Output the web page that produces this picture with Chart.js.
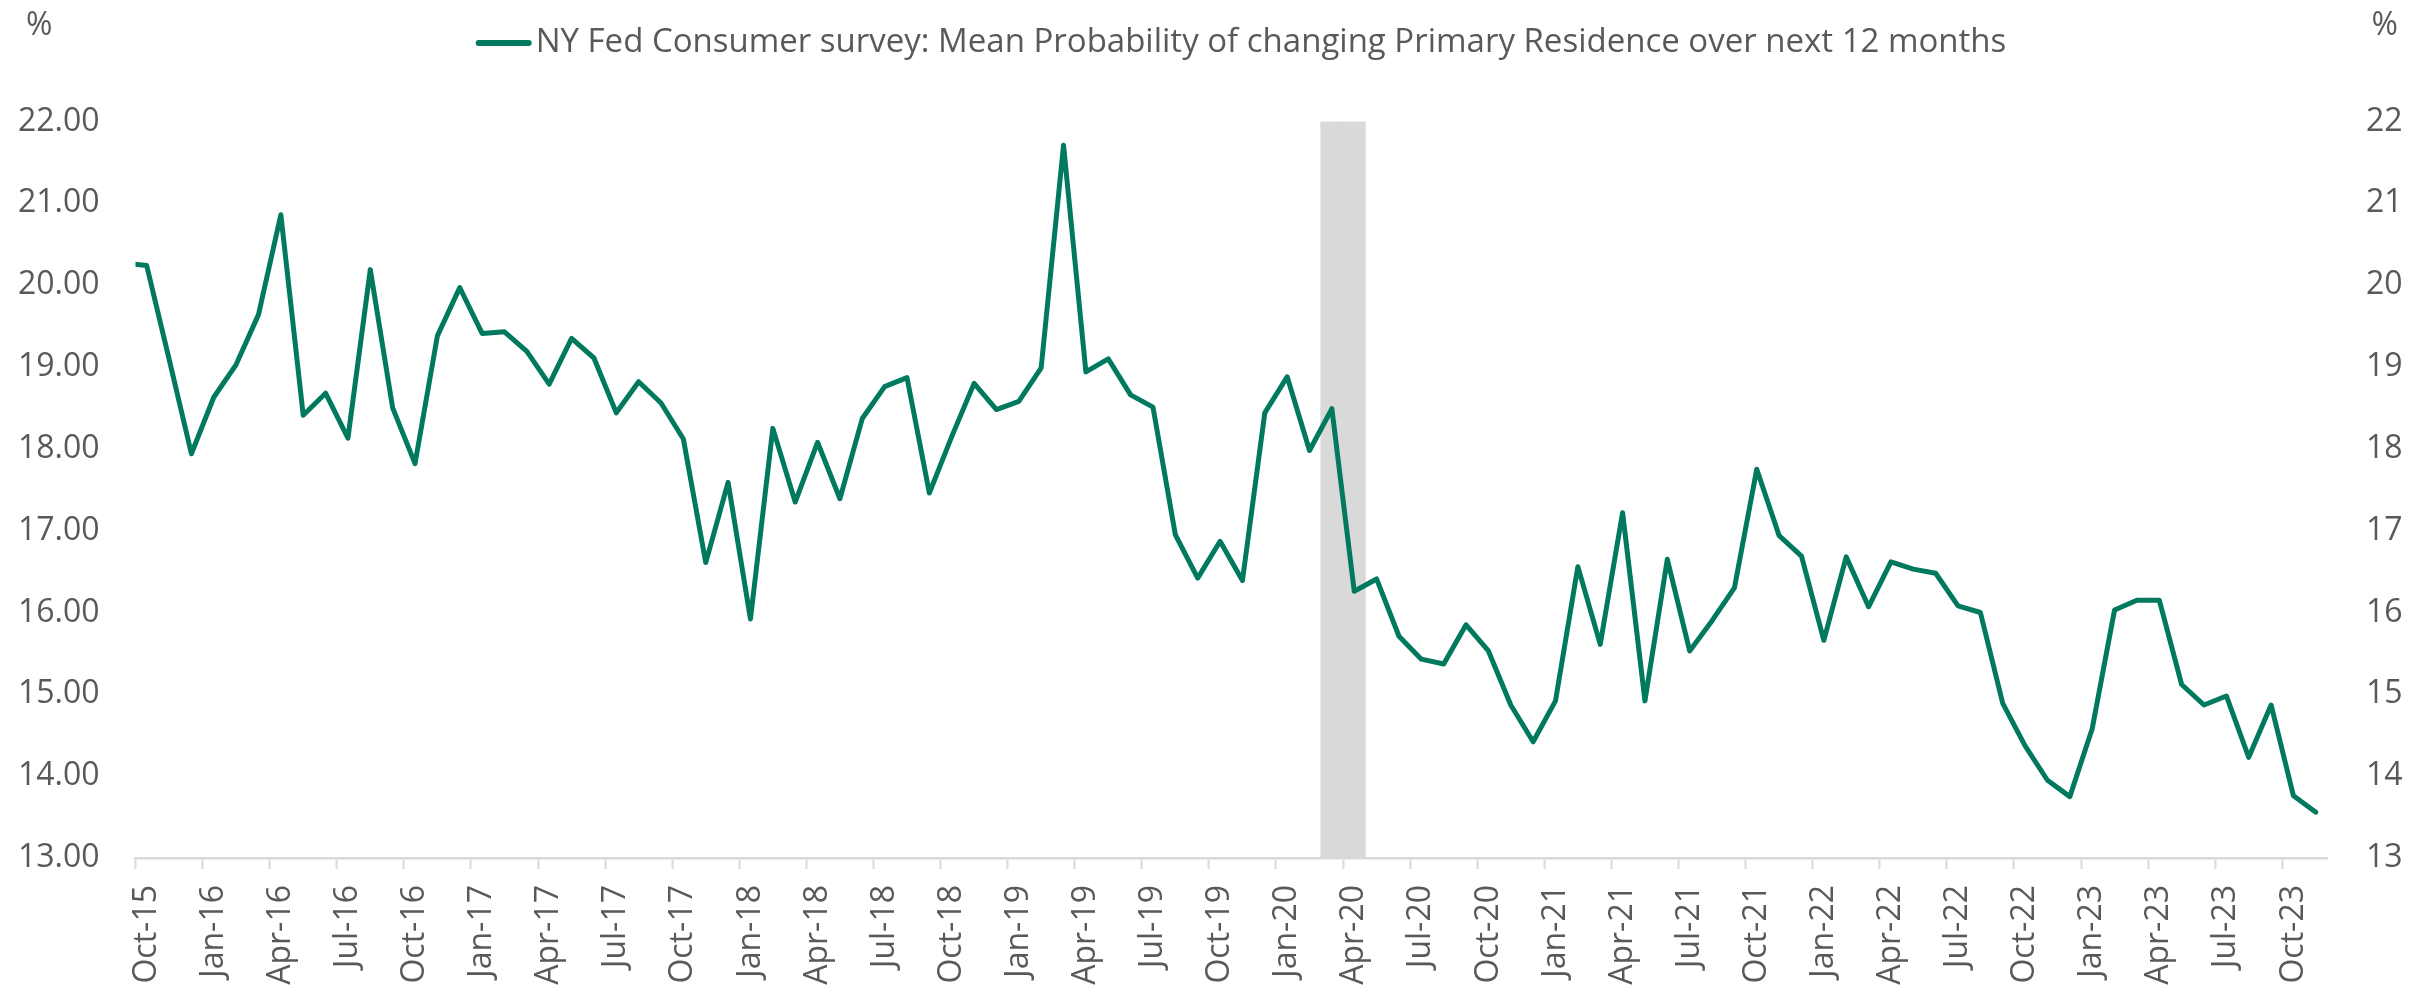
<!DOCTYPE html>
<html>
<head>
<meta charset="utf-8">
<title>NY Fed Consumer survey</title>
<script src="https://cdn.jsdelivr.net/npm/chart.js@4.4.1/dist/chart.umd.min.js"></script>
<style>
  html, body { margin: 0; padding: 0; background: #ffffff; }
  #wrap { width: 2409px; height: 991px; position: relative; }
</style>
</head>
<body>
<div id="wrap"><canvas id="myChart"></canvas></div>
<script>
// series + axis settings
const seriesName = "NY Fed Consumer survey: Mean Probability of changing Primary Residence over next 12 months";
const unitLabel = "%";

// monthly values, Sep-15 .. Nov-23 (Sep-15 sits just left of the axis start)
const values = [
  20.27,
  20.24, 19.10, 17.94, 18.63, 19.03, 19.64, 20.86, 18.41, 18.68, 18.13, 20.19, 18.50,
  17.82, 19.38, 19.97, 19.41, 19.43, 19.19, 18.79, 19.35, 19.11, 18.44, 18.82, 18.56,
  18.12, 16.61, 17.59, 15.92, 18.25, 17.35, 18.08, 17.39, 18.37, 18.76, 18.87, 17.46,
  18.15, 18.80, 18.48, 18.58, 18.99, 21.71, 18.94, 19.10, 18.66, 18.51, 16.95, 16.42,
  16.87, 16.39, 18.44, 18.88, 17.98, 18.49, 16.26, 16.41, 15.71, 15.43, 15.37, 15.85,
  15.53, 14.87, 14.42, 14.92, 16.56, 15.61, 17.22, 14.92, 16.65, 15.53, 15.90, 16.30,
  17.75, 16.94, 16.69, 15.66, 16.68, 16.07, 16.62, 16.53, 16.48, 16.08, 16.00, 14.89,
  14.37, 13.95, 13.75, 14.58, 16.03, 16.15, 16.15, 15.12, 14.87, 14.98, 14.23, 14.87,
  13.76, 13.56
];
const monthNames = ["Jan", "Feb", "Mar", "Apr", "May", "Jun", "Jul", "Aug", "Sep", "Oct", "Nov", "Dec"];
const firstYear = 2015;
const firstMonth = 8; // Sep
const months = values.map((v, i) => {
  const m = firstMonth + i;
  return monthNames[m % 12] + "-" + String((firstYear + Math.floor(m / 12)) % 100).padStart(2, "0");
});
const axisStart = "Oct-15";
const tickMonths = ["Jan", "Apr", "Jul", "Oct"];
const recession = ["Mar-20", "Apr-20"];
const yMin = 13;
const yMax = 22;
const yStep = 1;

const lineColor = "#00795f";
const shadeColor = "#d9d9d9";
const textColor = "#595959";
const fontFamily = "'Open Sans', 'DejaVu Sans', sans-serif";

const shadeData = months.map((m) => (recession.includes(m) ? [yMin, yMax] : null));

// "%" over both axes + legend line
const headerText = {
  id: "headerText",
  afterDraw(chart) {
    const c = chart.ctx;
    c.save();
    c.font = "32px " + fontFamily;
    c.fillStyle = textColor;
    c.textBaseline = "middle";
    c.textAlign = "left";
    c.fillText(unitLabel, 26, 26);
    c.textAlign = "right";
    c.fillText(unitLabel, chart.width - 11, 26);

    c.font = "33px " + fontFamily;
    const tw = c.measureText(seriesName).width;
    const total = 56 + 4 + tw;
    const x0 = 1241 - total / 2;
    c.strokeStyle = lineColor;
    c.lineWidth = 6;
    c.lineCap = "round";
    c.beginPath();
    c.moveTo(x0 + 3, 43);
    c.lineTo(x0 + 53, 43);
    c.stroke();
    c.textAlign = "left";
    c.fillText(seriesName, x0 + 60, 43);
    c.restore();
  }
};

const data = {
  labels: months,
  datasets: [
    {
      type: "line",
      label: seriesName,
      data: values,
      borderColor: lineColor,
      backgroundColor: lineColor,
      borderWidth: 5,
      pointRadius: 0,
      tension: 0,
      borderJoinStyle: "round",
      borderCapStyle: "round",
      yAxisID: "y",
      order: 0,
    },
    {
      type: "bar",
      label: "recession",
      data: shadeData,
      backgroundColor: shadeColor,
      borderWidth: 0,
      barPercentage: 1,
      categoryPercentage: 1,
      yAxisID: "y",
      order: 1,
    },
  ],
};

const config = {
  type: "line",
  data,
  plugins: [headerText],
  options: {
    responsive: true,
    maintainAspectRatio: false,
    animation: false,
    layout: {
      padding: { top: 121.5, left: 0, right: 0, bottom: 0 },
    },
    plugins: {
      legend: { display: false },
      tooltip: { enabled: false },
    },
    scales: {
      x: {
        type: "category",
        min: axisStart,
        offset: true,
        afterFit: (s) => { s.height = 133; },
        border: { display: true, color: shadeColor, width: 2.5 },
        grid: {
          display: true,
          offset: true,
          drawOnChartArea: false,
          drawTicks: true,
          tickLength: 11,
          tickWidth: 2,
          tickColor: (ctx) => (ctx.tick && ctx.tick.label ? shadeColor : "rgba(0,0,0,0)"),
        },
        ticks: {
          autoSkip: false,
          minRotation: 90,
          maxRotation: 90,
          padding: 16,
          color: textColor,
          font: { family: fontFamily, size: 32 },
          callback: function (value) {
            const lab = this.getLabelForValue(value);
            return tickMonths.includes(lab.slice(0, 3)) ? lab : "";
          },
        },
      },
      y: {
        position: "left",
        min: yMin,
        max: yMax,
        afterFit: (s) => { s.width = 135.5; },
        border: { display: false },
        grid: { display: false, drawTicks: false },
        ticks: {
          stepSize: yStep,
          padding: 36,
          color: textColor,
          font: { family: fontFamily, size: 32 },
          callback: (v) => v.toFixed(2),
        },
      },
      y2: {
        position: "right",
        min: yMin,
        max: yMax,
        afterFit: (s) => { s.width = 82; },
        border: { display: false },
        grid: { display: false, drawTicks: false },
        ticks: {
          stepSize: yStep,
          padding: 39,
          color: textColor,
          font: { family: fontFamily, size: 32 },
          callback: (v) => String(v),
        },
      },
    },
  },
};

const ctx = document.getElementById("myChart").getContext("2d");
const chart = new Chart(ctx, config);
</script>
</body>
</html>
